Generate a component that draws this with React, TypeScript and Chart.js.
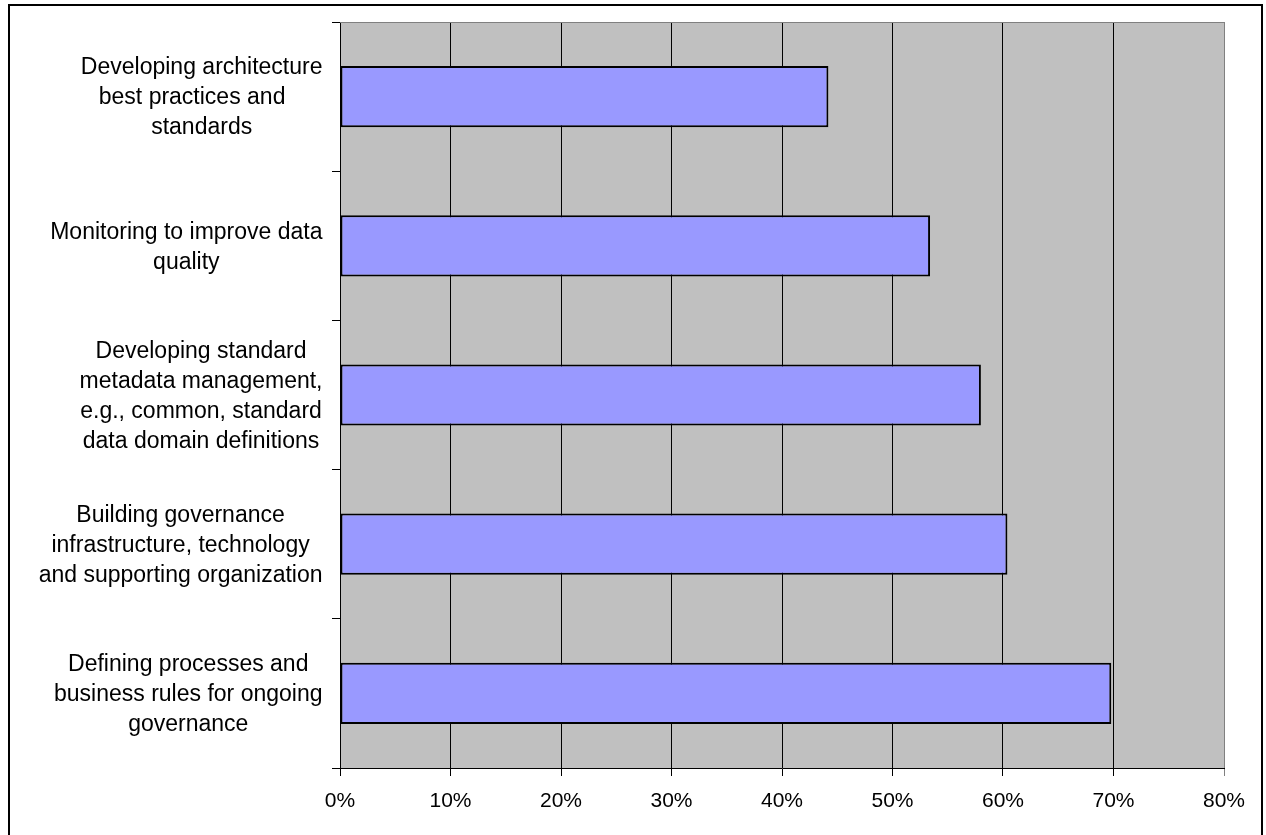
import React, { useEffect, useRef } from "react";
import { Chart, registerables } from "chart.js";

Chart.register(...registerables);

const categories: string[][] = [
  ["Developing architecture", "best practices and   ", "standards"],
  ["Monitoring to improve data", "quality"],
  ["Developing standard", "metadata management,", "e.g., common, standard", "data domain definitions"],
  ["Building governance", "infrastructure, technology", "and supporting organization"],
  ["Defining processes and", "business rules for ongoing", "governance"],
];
const values: number[] = [0.442, 0.534, 0.580, 0.604, 0.698];
const xTicks: number[] = [0, 0.1, 0.2, 0.3, 0.4, 0.5, 0.6, 0.7, 0.8];

const FONT = "'Liberation Sans', Arial, sans-serif";

const decorPlugin = {
  id: "decor",
  beforeDraw(chart: any) {
    const { ctx, chartArea } = chart;
    ctx.save();
    ctx.fillStyle = "#ffffff";
    ctx.fillRect(0, 0, chart.width, chart.height);
    ctx.fillStyle = "#C0C0C0";
    ctx.fillRect(chartArea.left, chartArea.top, chartArea.right - chartArea.left, chartArea.bottom - chartArea.top);
    ctx.restore();
  },
  afterDraw(chart: any) {
    const { ctx, chartArea } = chart;
    ctx.save();
    ctx.strokeStyle = "#808080";
    ctx.lineWidth = 1;
    ctx.beginPath();
    ctx.moveTo(chartArea.left, chartArea.top + 0.5);
    ctx.lineTo(chartArea.right, chartArea.top + 0.5);
    ctx.stroke();
    ctx.strokeStyle = "#000000";
    ctx.lineWidth = 2;
    ctx.strokeRect(9, 5, 1253, 845);
    const yScale = chart.scales.y;
    ctx.font = `23px ${FONT}`;
    ctx.fillStyle = "#000000";
    ctx.textAlign = "center";
    ctx.textBaseline = "middle";
    const rightEdge = 322.5;
    const lineH = 30;
    categories.forEach((lines, i) => {
      const widest = Math.max(...lines.map((l) => ctx.measureText(l).width));
      const cx = rightEdge - widest / 2;
      const cy = yScale.getPixelForValue(i) + 1.5;
      lines.forEach((line, k) => {
        ctx.fillText(line, cx, cy + (k - (lines.length - 1) / 2) * lineH);
      });
    });
    ctx.restore();
  },
};

export default function App() {
  const ref = useRef<HTMLCanvasElement>(null);
  useEffect(() => {
    if (!ref.current) return;
    const chart = new Chart(ref.current, {
      type: "bar",
      data: {
        labels: categories.map((c) => c.join(" ")),
        datasets: [
          {
            data: values,
            backgroundColor: "#9999FF",
            borderColor: "#000000",
            borderWidth: 2,
            borderSkipped: false,
            barPercentage: 0.41,
            categoryPercentage: 1,
          },
        ],
      },
      options: {
        indexAxis: "y",
        animation: false,
        responsive: false,
        devicePixelRatio: 1,
        layout: { padding: { top: 22, right: 42, left: 0, bottom: 0 } },
        plugins: { legend: { display: false }, tooltip: { enabled: false }, title: { display: false } },
        scales: {
          x: {
            type: "linear",
            min: 0,
            max: 0.8,
            afterBuildTicks: (scale: any) => {
              scale.ticks = xTicks.map((v) => ({ value: v }));
            },
            afterFit: (scale: any) => {
              scale.height = 67;
            },
            ticks: {
              callback: (v: any) => `${Math.round(Number(v) * 100)}%`,
              font: { family: FONT, size: 21 },
              color: "#000000",
              padding: 13,
              maxRotation: 0,
            },
            grid: {
              color: (c: any) => (c.index === xTicks.length - 1 ? "#808080" : "#000000"),
              lineWidth: 1,
              tickLength: 8,
              drawTicks: true,
            },
            border: { color: "#000000", width: 1 },
          },
          y: {
            type: "category",
            afterFit: (scale: any) => {
              scale.width = 340;
            },
            ticks: { display: false },
            grid: {
              drawOnChartArea: false,
              color: "#000000",
              tickLength: 8,
              offset: true,
            },
            border: { color: "#000000", width: 1 },
          },
        },
      },
      plugins: [decorPlugin],
    });
    return () => chart.destroy();
  }, []);
  return (
    <div style={{ position: "fixed", left: 0, top: 0, width: 1266, height: 835, background: "#fff" }}>
      <canvas ref={ref} width={1266} height={835} style={{ display: "block" }} />
    </div>
  );
}
